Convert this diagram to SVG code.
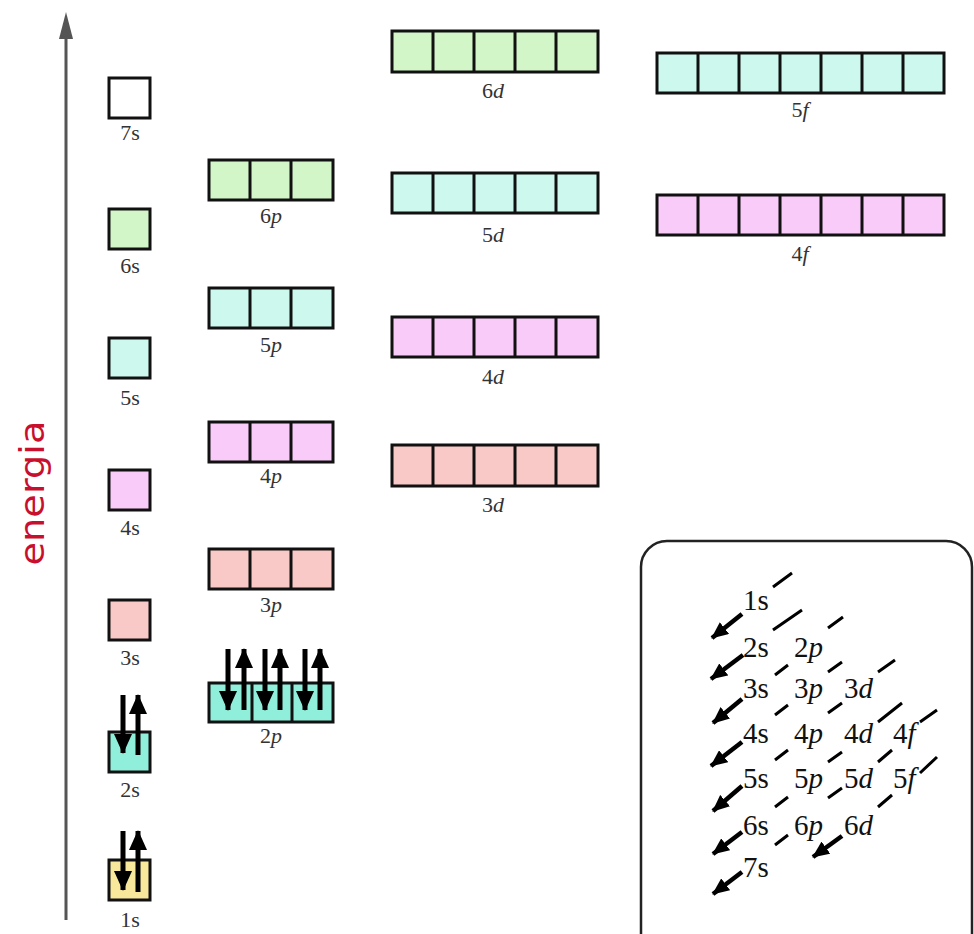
<svg xmlns="http://www.w3.org/2000/svg" width="974" height="934" viewBox="0 0 974 934">
<defs>
<style>
.bx{stroke:#111;stroke-width:3;}
.dv{stroke:#111;stroke-width:3;}
.lb{font-family:"Liberation Serif","DejaVu Serif",serif;font-size:22px;fill:#333;text-anchor:middle;}
.it{font-style:italic;}
.il{font-family:"Liberation Serif","DejaVu Serif",serif;font-size:29px;fill:#111;}
.e{stroke:#000;stroke-width:5;fill:none;}
.ds{stroke:#000;stroke-width:3;fill:none;}
.ia{stroke:#000;stroke-width:4.5;fill:none;marker-end:url(#ih);}
.g{fill:#d2f6c8;} .c{fill:#cdf8ee;} .k{fill:#f9cbf8;} .r{fill:#f8c9c7;} .t{fill:#8fefdb;} .y{fill:#f8e89c;} .w{fill:#fff;}
</style>
<marker id="eh" markerUnits="userSpaceOnUse" markerWidth="20" markerHeight="18" viewBox="0 0 20 18" refX="19" refY="9" orient="auto"><path d="M0,0 L20,9 L0,18 z" fill="#000"/></marker>
<marker id="ih" markerUnits="userSpaceOnUse" markerWidth="17" markerHeight="15" viewBox="0 0 17 15" refX="16" refY="7.5" orient="auto"><path d="M0,0 L17,7.5 L0,15 z" fill="#000"/></marker>
</defs>
<rect width="974" height="934" fill="#fff"/>

<g id="axis">
<line x1="66" y1="920" x2="66" y2="34" stroke="#555" stroke-width="3"/>
<path d="M66,12 L73,39 L59,39 z" fill="#555"/>
<text transform="translate(44,493) rotate(-90)" font-family="DejaVu Sans, sans-serif" font-size="34" fill="#c8102e" text-anchor="middle" textLength="145" lengthAdjust="spacingAndGlyphs">energia</text>
</g>

<g id="s7"><rect class="bx w" x="109" y="78" width="41" height="40"/><text class="lb" x="130" y="140">7s</text></g>
<g id="s6"><rect class="bx g" x="109" y="209" width="41" height="40"/><text class="lb" x="130" y="273">6s</text></g>
<g id="s5"><rect class="bx c" x="109" y="338" width="41" height="40"/><text class="lb" x="130" y="405">5s</text></g>
<g id="s4"><rect class="bx k" x="109" y="470" width="41" height="40"/><text class="lb" x="130" y="535">4s</text></g>
<g id="s3"><rect class="bx r" x="109" y="600" width="41" height="40"/><text class="lb" x="130" y="665">3s</text></g>
<g id="s2"><rect class="bx t" x="109" y="732" width="41" height="40"/><text class="lb" x="130" y="797">2s</text>
<line class="e" x1="123" y1="695" x2="123" y2="753" marker-end="url(#eh)"/>
<line class="e" x1="138" y1="755" x2="138" y2="695" marker-end="url(#eh)"/></g>
<g id="s1"><rect class="bx y" x="109" y="860" width="41" height="40"/><text class="lb" x="130" y="927">1s</text>
<line class="e" x1="123" y1="831" x2="123" y2="890" marker-end="url(#eh)"/>
<line class="e" x1="138" y1="892" x2="138" y2="831" marker-end="url(#eh)"/></g>

<g id="p6"><rect class="bx g" x="209" y="160" width="124" height="40"/><path class="dv" d="M250,160V200M291,160V200"/><text class="lb" x="271" y="223">6<tspan class="it">p</tspan></text></g>
<g id="p5"><rect class="bx c" x="209" y="288" width="124" height="40"/><path class="dv" d="M250,288V328M291,288V328"/><text class="lb" x="271" y="352">5<tspan class="it">p</tspan></text></g>
<g id="p4"><rect class="bx k" x="209" y="422" width="124" height="40"/><path class="dv" d="M250,422V462M291,422V462"/><text class="lb" x="271" y="483">4<tspan class="it">p</tspan></text></g>
<g id="p3"><rect class="bx r" x="209" y="549" width="124" height="40"/><path class="dv" d="M250,549V589M291,549V589"/><text class="lb" x="271" y="612">3<tspan class="it">p</tspan></text></g>
<g id="p2"><rect class="bx t" x="209" y="683" width="124" height="39"/><path class="dv" d="M252,683V722M292,683V722"/><text class="lb" x="271" y="743">2<tspan class="it">p</tspan></text>
<line class="e" x1="228" y1="649" x2="228" y2="710" marker-end="url(#eh)"/>
<line class="e" x1="244" y1="710" x2="244" y2="649" marker-end="url(#eh)"/>
<line class="e" x1="265" y1="649" x2="265" y2="710" marker-end="url(#eh)"/>
<line class="e" x1="280" y1="710" x2="280" y2="649" marker-end="url(#eh)"/>
<line class="e" x1="305" y1="649" x2="305" y2="710" marker-end="url(#eh)"/>
<line class="e" x1="320" y1="710" x2="320" y2="649" marker-end="url(#eh)"/></g>

<g id="d6"><rect class="bx g" x="392" y="31" width="206" height="41"/><path class="dv" d="M433,31V72M474,31V72M515,31V72M556,31V72"/><text class="lb" x="493" y="98">6<tspan class="it">d</tspan></text></g>
<g id="d5"><rect class="bx c" x="392" y="173" width="206" height="40"/><path class="dv" d="M433,173V213M474,173V213M515,173V213M556,173V213"/><text class="lb" x="493" y="242">5<tspan class="it">d</tspan></text></g>
<g id="d4"><rect class="bx k" x="392" y="317" width="206" height="40"/><path class="dv" d="M433,317V357M474,317V357M515,317V357M556,317V357"/><text class="lb" x="493" y="384">4<tspan class="it">d</tspan></text></g>
<g id="d3"><rect class="bx r" x="392" y="445" width="206" height="41"/><path class="dv" d="M433,445V486M474,445V486M515,445V486M556,445V486"/><text class="lb" x="493" y="512">3<tspan class="it">d</tspan></text></g>

<g id="f5"><rect class="bx c" x="657" y="53" width="287" height="40"/><path class="dv" d="M698,53V93M739,53V93M780,53V93M821,53V93M862,53V93M903,53V93"/><text class="lb" x="800" y="117">5<tspan class="it">f</tspan></text></g>
<g id="f4"><rect class="bx k" x="657" y="195" width="287" height="40"/><path class="dv" d="M698,195V235M739,195V235M780,195V235M821,195V235M862,195V235M903,195V235"/><text class="lb" x="800" y="261">4<tspan class="it">f</tspan></text></g>

<g id="inset">
<rect x="641" y="541" width="331" height="430" rx="26" fill="#fff" stroke="#222" stroke-width="2.5"/>
<text class="il" x="743" y="610">1s</text>
<text class="il" x="743" y="657">2s</text><text class="il" x="794" y="657">2<tspan class="it">p</tspan></text>
<text class="il" x="743" y="698">3s</text><text class="il" x="794" y="698">3<tspan class="it">p</tspan></text><text class="il" x="844" y="698">3<tspan class="it">d</tspan></text>
<text class="il" x="743" y="743">4s</text><text class="il" x="794" y="743">4<tspan class="it">p</tspan></text><text class="il" x="844" y="743">4<tspan class="it">d</tspan></text><text class="il" x="893" y="743">4<tspan class="it">f</tspan></text>
<text class="il" x="743" y="788">5s</text><text class="il" x="794" y="788">5<tspan class="it">p</tspan></text><text class="il" x="844" y="788">5<tspan class="it">d</tspan></text><text class="il" x="893" y="788">5<tspan class="it">f</tspan></text>
<text class="il" x="743" y="835">6s</text><text class="il" x="794" y="835">6<tspan class="it">p</tspan></text><text class="il" x="844" y="835">6<tspan class="it">d</tspan></text>
<text class="il" x="743" y="877">7s</text>
</g>

<g id="connectors">
<path class="ds" d="M773,587L792,573 M773,630L802,610 M828,628L843,617 M775,675L788,665 M828,672L842,662 M878,672L895,660 M775,715L788,705 M828,713L842,703 M878,722L902,703 M920,722L937,710 M775,760L788,750 M828,762L842,752 M878,762L892,750 M920,773L937,757 M775,807L788,797 M828,798L842,788 M878,807L892,795 M775,845L788,835"/>
<line class="ia" x1="742" y1="614" x2="712" y2="638"/>
<line class="ia" x1="743" y1="655" x2="711" y2="679"/>
<line class="ia" x1="742" y1="699" x2="713" y2="723"/>
<line class="ia" x1="742" y1="742" x2="711" y2="766"/>
<line class="ia" x1="742" y1="786" x2="713" y2="811"/>
<line class="ia" x1="742" y1="832" x2="713" y2="854"/>
<line class="ia" x1="842" y1="836" x2="813" y2="857"/>
<line class="ia" x1="742" y1="872" x2="713" y2="894"/>
</g>
</svg>
